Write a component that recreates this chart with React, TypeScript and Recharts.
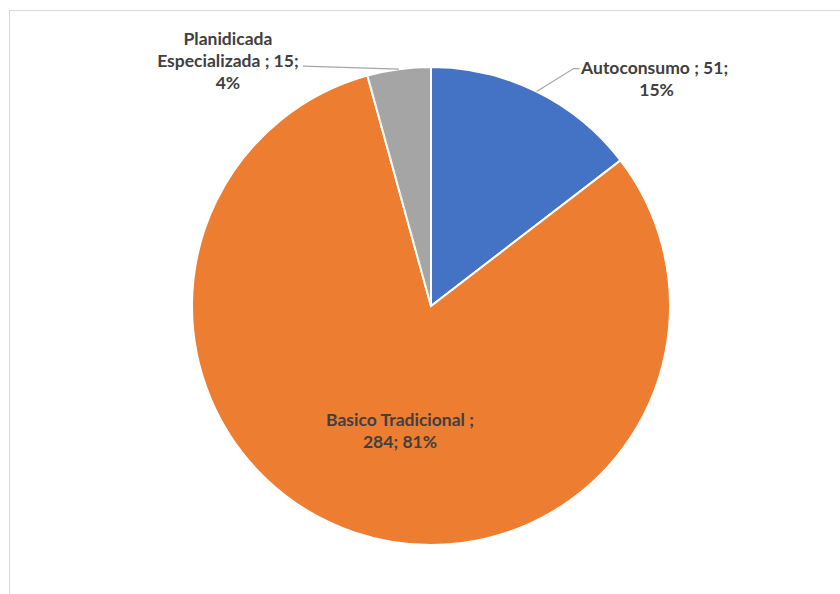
import { PieChart, Pie, Cell } from "recharts"

const categories = ["Autoconsumo", "Basico Tradicional", "Planidicada Especializada"]
const values = [51, 284, 15]
const colors = ["#4472C4", "#ED7D31", "#A5A5A5"]

const data = categories.map((name, i) => ({ name, value: values[i] }))

const RAD = Math.PI / 180
const textStyle = { fontFamily: "Lato, 'Open Sans', sans-serif", fontWeight: 700, fontSize: 17.5, fill: "#404040" }

function renderLabel(props: any) {
  const { cx, cy, midAngle, outerRadius, percent, index, value } = props
  const pct = Math.round(percent * 100) + "%"
  const ex = cx + outerRadius * Math.cos(-midAngle * RAD)
  const ey = cy + outerRadius * Math.sin(-midAngle * RAD)

  if (index === 0) {
    return (
      <g>
        <polyline points={`${ex},${ey} ${ex + 37},${ey - 23} ${ex + 43},${ey - 23}`} fill="none" stroke="#a6a6a6" strokeWidth={1.2} />
        <text x={ex + 118} y={ey - 18} textAnchor="middle" style={textStyle}>
          {`${categories[0]} ; ${value};`}
        </text>
        <text x={ex + 120} y={ey + 4} textAnchor="middle" style={textStyle}>{pct}</text>
      </g>
    )
  }
  if (index === 2) {
    return (
      <g>
        <polyline points={`${ex},${ey} ${ex - 96},${ey - 3}`} fill="none" stroke="#a6a6a6" strokeWidth={1.2} />
        <text x={ex - 171} y={ey - 24} textAnchor="middle" style={textStyle}>Planidicada</text>
        <text x={ex - 171} y={ey - 2} textAnchor="middle" style={textStyle}>{`Especializada ; ${value};`}</text>
        <text x={ex - 171} y={ey + 20} textAnchor="middle" style={textStyle}>{pct}</text>
      </g>
    )
  }
  // inside label for the big slice
  const lx = cx - 31
  const ly = cy + 120
  return (
    <g>
      <text x={lx} y={ly} textAnchor="middle" style={textStyle}>{`${categories[1]} ;`}</text>
      <text x={lx} y={ly + 22} textAnchor="middle" style={textStyle}>{`${value}; ${pct}`}</text>
    </g>
  )
}

export default function App() {
  return (
    <div style={{ position: "absolute", left: 0, top: 0, width: 840, height: 594, overflow: "hidden", background: "#fff" }}>
      <div style={{ position: "absolute", left: 9, top: 10, width: 900, height: 700, border: "1px solid #d9d9d9" }} />
      <div style={{ position: "absolute", left: 0, top: 0 }}>
        <PieChart width={840} height={594} margin={{ top: 0, right: 0, bottom: 0, left: 0 }}>
          <Pie
            data={data}
            dataKey="value"
            nameKey="name"
            cx={431}
            cy={306}
            outerRadius={239}
            startAngle={90}
            endAngle={-270}
            stroke="#ffffff"
            strokeWidth={2}
            label={renderLabel}
            labelLine={false}
            isAnimationActive={false}
          >
            {data.map((d, i) => (
              <Cell key={d.name} fill={colors[i]} />
            ))}
          </Pie>
        </PieChart>
      </div>
    </div>
  )
}
